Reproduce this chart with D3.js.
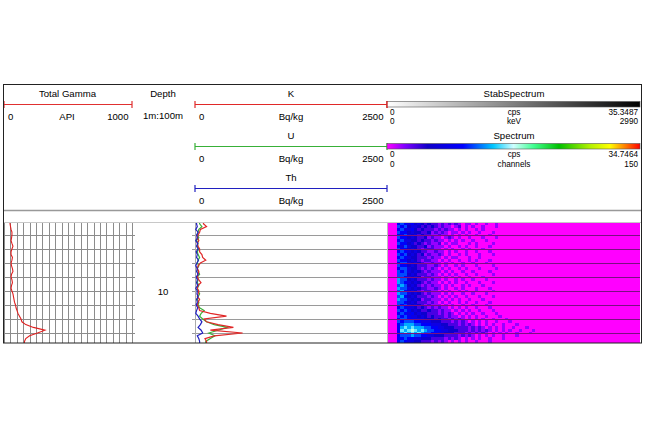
<!DOCTYPE html>
<html><head><meta charset="utf-8">
<script src="https://cdn.jsdelivr.net/npm/d3@7/dist/d3.min.js"></script>
<style>
body{margin:0;background:#fff}
svg{display:block}
text{font-family:Arial,"Liberation Sans",sans-serif;fill:#000}
</style>
</head><body>
<svg id="c" width="646" height="431"></svg>
<script>
// ---------------- DATA ----------------
const depths = [5.2,5.4,5.6,5.8,6.0,6.2,6.4,6.6,6.8,7.0,7.2,7.4,7.6,7.8,8.0,8.2,8.4,8.6,8.8,9.0,9.2,9.4,9.6,9.8,10.0,10.2,10.4,10.6,10.8,11.0,11.2,11.4,11.6,11.8,12.0,12.2,12.4,12.6,12.8,13.0,13.2,13.4,13.6];
const gamma = [47,51,55,62,62,59,55,62,70,62,55,55,66,62,55,59,66,70,59,55,62,66,59,55,62,70,74,78,82,90,94,102,109,121,133,140,170,230,320,262,200,170,160];
const kVals = [110,150,70,60,40,30,50,30,40,60,60,90,100,140,70,40,30,50,40,30,50,78,40,30,50,40,30,60,40,30,50,60,200,410,120,150,300,500,200,620,250,130,150];
const uVals = [60,90,50,40,30,50,20,40,30,50,30,40,60,40,30,50,30,40,60,30,40,30,50,30,40,60,40,30,50,40,60,120,80,60,100,150,250,420,300,180,260,200,140];
const thVals = [20,30,10,40,20,30,10,35,20,40,15,30,20,45,25,10,30,20,40,15,30,20,35,10,30,25,40,20,30,15,35,20,10,40,60,90,70,40,80,100,30,50,60];
// spectrum: one string per depth row, one digit per 2-channel bin (count level)
const spectrumRows = [
"000565453432322121212101101001001",
"000656344323232121101201010010001",
"000564453232221212110101001010000",
"000655343322312121011010100100010",
"000546434232211211010101001000100",
"000655343223121101210100100010001",
"000564433232212110101010010001000",
"000655342321211201011000101000010",
"000546433223121110100101001000100",
"000655343212221101010010100010000",
"000565434322112110101001001000100",
"000656343231211210100101000100010",
"000565433222121101011000100100000",
"000655343212211010100100101000100",
"000566434321121101010010010001000",
"000655343222112101001010001000010",
"000566433212121010100101000100001",
"000656434321211101010010010000100",
"000666343222121010101001001000010",
"000665434312211101010100100010000",
"000766343222121101001010010001000",
"000765434321211010101001000100010",
"000676343212121101010010100010000",
"000766434322112101001010001000100",
"000675343212211010100101001000010",
"000766434321211101010010010001000",
"000675343222121010101001000100010",
"000766434312211101010100100010000",
"000665343222121010100101001000100",
"000656434321211101010010010001000",
"000565443232121211010101001000100",
"000656534322322121101010100100010",
"000565453433222121210101010010001",
"000656544343232221211010101001000100",
"000566554443332322121210101010010001",
"000656665544433322212121010101001000100",
"000567776655544433222121210101010010001",
"000578787776655443332222121210101010010001",
"000587898787665544333222121212101010100100010",
"000578787876655443332221212121010101001000100",
"000566676655443332222121210101010010001",
"000556554433322221212101010100100010",
"000565443322212121010101001000100"
];
const levelCps = [0,2,4,6,8,10,12,14,16,18];
const depthLines = [6,7,8,9,10,11,12,13];
const depthLabels = [10];
const specStopPos = [0,0.07,0.16,0.30,0.42,0.50,0.58,0.68,0.80,0.88,0.94,1];
const specStopCol = ["#ff00ff","#8000ff","#1000c8","#0000ff","#00c8ff","#d0ffff","#40ff90","#00c000","#b0f000","#ffff00","#ff8000","#ff0000"];
const specMax = 34.7464;

// ---------------- DRAW ----------------
const svg = d3.select("#c");
const y = d3.scaleLinear().domain([5.143, 13.714]).range([223, 343]);
const gx = d3.scaleLinear().domain([0, 1000]).range([4, 132]);
const kx = d3.scaleLinear().domain([0, 2500]).range([195, 387]);
const sx = d3.scaleLinear().domain([0, 150]).range([387, 640]);
const color = d3.scaleLinear().domain(specStopPos.map(p => p * specMax)).range(specStopCol).interpolate(d3.interpolateRgb).clamp(true);

const defs = svg.append("defs");
const g1 = defs.append("linearGradient").attr("id","gray");
g1.append("stop").attr("offset","0%").attr("stop-color","#ffffff");
g1.append("stop").attr("offset","100%").attr("stop-color","#000000");
const g2 = defs.append("linearGradient").attr("id","rainbow");
specStopPos.forEach((p,i)=>g2.append("stop").attr("offset",(p*100)+"%").attr("stop-color",specStopCol[i]));
defs.append("filter").attr("id","soft").attr("x","0").attr("y","0").attr("width","1").attr("height","1")
  .append("feGaussianBlur").attr("stdDeviation",0.55);
defs.append("clipPath").attr("id","clipSpec").append("rect").attr("x",388).attr("y",223).attr("width",252).attr("height",120);

function txt(x, yy, s, anchor, size){
  svg.append("text").attr("x",x).attr("y",yy).attr("text-anchor",anchor||"middle")
    .attr("font-size",size||9.6).text(s);
}
function scaleLine(x0,x1,yy,col){
  svg.append("line").attr("x1",x0).attr("x2",x1).attr("y1",yy).attr("y2",yy).attr("stroke",col).attr("stroke-width",1.2);
  [x0,x1].forEach(xx=>svg.append("line").attr("x1",xx).attr("x2",xx).attr("y1",yy-3.5).attr("y2",yy+3.5).attr("stroke",col).attr("stroke-width",1.2));
}

// Total Gamma header
txt(67.5,96.5,"Total Gamma");
scaleLine(gx(0),gx(1000),104.5,"#e03030");
txt(8,119.5,"0","start"); txt(67,119.5,"API"); txt(128.5,119.5,"1000","end");
// Depth header
txt(163,96.5,"Depth"); txt(163,118.5,"1m:100m");
// K U Th headers
const curves = [
  {name:"K", vals:kVals, col:"#e02828", y0:96.5},
  {name:"U", vals:uVals, col:"#38b038", y0:138.5},
  {name:"Th", vals:thVals, col:"#2020c0", y0:180.5}
];
curves.forEach(c=>{
  txt(291,c.y0,c.name);
  scaleLine(kx(0),kx(2500),c.y0+8,c.col);
  txt(199,c.y0+23.5,"0","start"); txt(291,c.y0+23.5,"Bq/kg"); txt(383.5,c.y0+23.5,"2500","end");
});
// Spectrum headers
const fs = 8.2;
txt(514,96.5,"StabSpectrum");
svg.append("rect").attr("x",sx(0)).attr("y",101.5).attr("width",sx(150)-sx(0)).attr("height",5.5)
  .attr("fill","url(#gray)").attr("stroke","#555").attr("stroke-width",0.6);
txt(390,114.8,"0","start",fs); txt(514,114.8,"cps","middle",fs); txt(638,114.8,"35.3487","end",fs);
txt(390,124.3,"0","start",fs); txt(514,124.3,"keV","middle",fs); txt(638,124.3,"2990","end",fs);
txt(514,139,"Spectrum");
svg.append("rect").attr("x",sx(0)).attr("y",143.5).attr("width",sx(150)-sx(0)).attr("height",5.5)
  .attr("fill","url(#rainbow)").attr("stroke","#555").attr("stroke-width",0.6);
txt(390,157,"0","start",fs); txt(514,157,"cps","middle",fs); txt(638,157,String(specMax),"end",fs);
txt(390,166.5,"0","start",fs); txt(514,166.5,"channels","middle",fs); txt(638,166.5,"150","end",fs);
svg.append("line").attr("x1",kx(2500)).attr("x2",kx(2500)).attr("y1",101).attr("y2",108).attr("stroke","#e02828").attr("stroke-width",1.2);

// separators
svg.append("line").attr("x1",3.5).attr("x2",641.5).attr("y1",210.5).attr("y2",210.5).attr("stroke","#999").attr("stroke-width",1.5);
svg.append("line").attr("x1",3.5).attr("x2",641.5).attr("y1",222.5).attr("y2",222.5).attr("stroke","#c8c8c8").attr("stroke-width",1);

// ---- data area ----
const plot = svg.append("g");
plot.append("rect").attr("x",sx(0)).attr("y",y.range()[0]).attr("width",sx(150)-sx(0)).attr("height",120).attr("fill",color(0));
const heat = plot.append("g").attr("clip-path","url(#clipSpec)").append("g").attr("filter","url(#soft)");
heat.append("rect").attr("x",sx(0)).attr("y",221).attr("width",sx(150)-sx(0)+2).attr("height",124).attr("fill",color(0));
spectrumRows.forEach((row,i)=>{
  const d = depths[i];
  const y0 = y(d-0.1), y1 = y(d+0.1);
  row.split("").forEach((ch,b)=>{
    const lv = +ch;
    if(lv===0) return;
    heat.append("rect").attr("x",sx(b*2)).attr("y",y0).attr("width",sx(b*2+2)-sx(b*2)).attr("height",y1-y0)
      .attr("fill",color(levelCps[lv])).attr("shape-rendering","crispEdges");
  });
});
depthLines.forEach(d=>plot.append("line").attr("x1",sx(0)).attr("x2",sx(150)).attr("y1",Math.round(y(d))+0.5).attr("y2",Math.round(y(d))+0.5).attr("stroke","#7a1080").attr("stroke-width",1));
plot.append("line").attr("x1",sx(0)+0.5).attr("x2",sx(0)+0.5).attr("y1",223).attr("y2",343).attr("stroke","#bbb");

gx.ticks(20).forEach(t=>{
  plot.append("line").attr("x1",Math.round(gx(t))+0.5).attr("x2",Math.round(gx(t))+0.5).attr("y1",223).attr("y2",343).attr("stroke","#8c8c8c").attr("stroke-width",1);
});
depthLines.forEach(d=>{
  plot.append("line").attr("x1",4).attr("x2",135).attr("y1",Math.round(y(d))+0.5).attr("y2",Math.round(y(d))+0.5).attr("stroke","#8c8c8c");
  plot.append("line").attr("x1",192).attr("x2",387).attr("y1",Math.round(y(d))+0.5).attr("y2",Math.round(y(d))+0.5).attr("stroke","#9a9a9a");
});
plot.append("line").attr("x1",kx(0)+0.5).attr("x2",kx(0)+0.5).attr("y1",223).attr("y2",343).attr("stroke","#aaa");
depthLabels.forEach(d=>plot.append("text").attr("x",163).attr("y",y(d)+3.5).attr("text-anchor","middle").attr("font-size",9.6).text(String(d)));

defs.append("clipPath").attr("id","clipData").append("rect").attr("x",3).attr("y",223).attr("width",640).attr("height",120);
const curveG = plot.append("g").attr("clip-path","url(#clipData)");
const lineG = d3.line().x(v=>gx(v[1])).y(v=>y(v[0]));
const ext = (vals)=>{ const a = depths.map((d,i)=>[d,vals[i]]); return [[5.1,vals[0]],...a,[13.8,vals[vals.length-1]]]; };
curveG.append("path").attr("d",lineG(ext(gamma))).attr("fill","none").attr("stroke","#e02020").attr("stroke-width",1.1);
const lineK = d3.line().x(v=>kx(v[1])).y(v=>y(v[0]));
[curves[1],curves[0],curves[2]].forEach(c=>{
  curveG.append("path").attr("d",lineK(ext(c.vals))).attr("fill","none").attr("stroke",c.col).attr("stroke-width",1.2);
});

svg.append("rect").attr("x",3.5).attr("y",84.5).attr("width",638).attr("height",258.5).attr("fill","none").attr("stroke","#222").attr("stroke-width",1);
</script>
</body></html>
